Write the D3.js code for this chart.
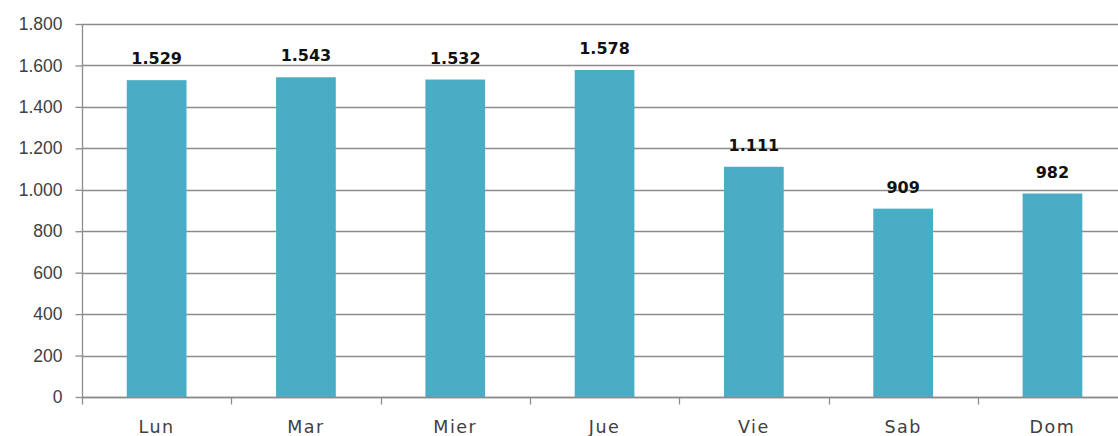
<!DOCTYPE html>
<html>
  <head>
    <meta charset="utf-8">
    <title>Días de la semana</title>
    <script src="https://d3js.org/d3.v7.min.js"></script>
    <style>
      body { margin: 0; background: #fff; }
      svg { display: block; font-family: "DejaVu Sans", sans-serif; }
      .grid line { stroke: #8c8c8c; stroke-width: 1.3; }
      .axis text { fill: #404040; font-size: 17.5px; }
      .xlabel { letter-spacing: 1.5px; }
      .axis line, .axis path { stroke: #8c8c8c; stroke-width: 1.3; }
      .value { font-size: 16px; font-weight: bold; fill: #111; text-anchor: middle; }
    </style>
  </head>
  <body>
    <svg id="svg" width="1118" height="436"></svg>
    <script>
      // data
      var days = ["Lun", "Mar", "Mier", "Jue", "Vie", "Sab", "Dom"];
      var counts = [1529, 1543, 1532, 1578, 1111, 909, 982];
      var yTicks = [0, 200, 400, 600, 800, 1000, 1200, 1400, 1600, 1800];

      var es = d3.formatLocale({ decimal: ",", thousands: ".", grouping: [3], currency: ["", " €"] });
      var fmt = es.format(",d");

      var svg = d3.select("#svg");
      // plot box (note: "top" is taken by window.top)
      var plotLeft = 82, plotTop = 24, plotBottom = 397, bandW = 149.3;

      var x = d3.scaleBand()
        .domain(days)
        .range([plotLeft, plotLeft + bandW * days.length])
        .paddingInner(0.6)
        .paddingOuter(0.3);
      var y = d3.scaleLinear()
        .domain([0, 1800])
        .range([plotBottom, plotTop]);

      // gridlines
      svg.append("g").classed("grid", true)
        .selectAll("line")
          .data(yTicks)
        .enter().append("line")
          .attr("x1", plotLeft)
          .attr("x2", 1118)
          .attr("y1", function(d) { return Math.round(y(d)) + 0.5; })
          .attr("y2", function(d) { return Math.round(y(d)) + 0.5; });

      // bars
      svg.append("g")
        .selectAll("rect")
          .data(counts)
        .enter().append("rect")
          .attr("x", function(d, i) { return x(days[i]); })
          .attr("width", x.bandwidth())
          .attr("y", function(d) { return y(d); })
          .attr("height", function(d) { return plotBottom - y(d); })
          .style("fill", "#4bacc6");

      // value labels
      svg.append("g")
        .selectAll("text")
          .data(counts)
        .enter().append("text")
          .classed("value", true)
          .attr("x", function(d, i) { return x(days[i]) + x.bandwidth() / 2; })
          .attr("y", function(d) { return y(d) - 16; })
          .text(function(d) { return fmt(d); });

      // y axis
      var yAxis = svg.append("g").classed("axis", true)
        .attr("transform", "translate(" + (plotLeft + 0.5) + ",0)")
        .call(d3.axisLeft(y).tickValues(yTicks).tickSize(7).tickPadding(13).tickFormat(fmt));
      yAxis.select(".domain").attr("d", "M0," + plotTop + "V" + plotBottom);

      // x axis with ticks between categories
      var xAxis = svg.append("g").classed("axis", true)
        .attr("transform", "translate(0," + (plotBottom + 0.5) + ")");
      xAxis.append("line")
        .attr("x1", plotLeft).attr("x2", 1118);
      xAxis.selectAll(".sep")
          .data(d3.range(days.length + 1))
        .enter().append("line")
          .attr("x1", function(d) { return Math.round(plotLeft + d * bandW) + 0.5; })
          .attr("x2", function(d) { return Math.round(plotLeft + d * bandW) + 0.5; })
          .attr("y1", 0).attr("y2", 7);
      xAxis.selectAll(".lbl")
          .data(days)
        .enter().append("text")
          .classed("xlabel", true)
          .attr("x", function(d) { return x(d) + x.bandwidth() / 2; })
          .attr("y", 35)
          .attr("text-anchor", "middle")
          .text(function(d) { return d; });
    </script>
  </body>
</html>
